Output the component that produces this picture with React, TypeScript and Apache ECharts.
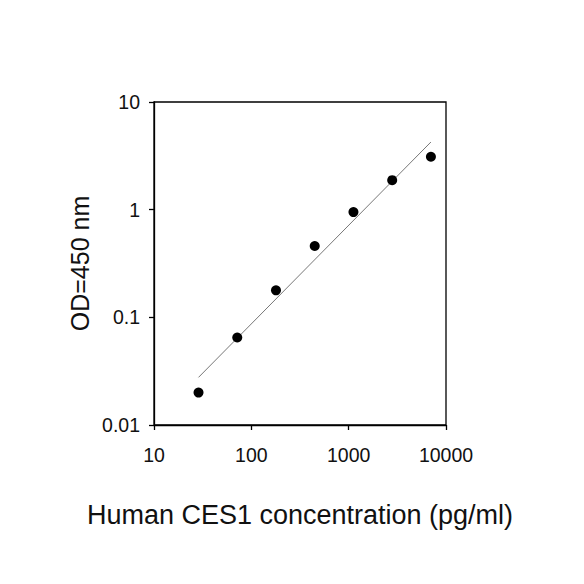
import React, { useEffect, useRef } from "react";
import * as echarts from "echarts";

const concentrations = [28.67, 71.68, 179.2, 448, 1120, 2800, 7000];
const odValues = [0.02, 0.065, 0.178, 0.46, 0.95, 1.88, 3.1];
const fitX = [28.67, 7000];
const fitY = [0.0277, 4.25];
const xTitle = "Human CES1 concentration (pg/ml)";
const yTitle = "OD=450 nm";

const FONT = "'Liberation Sans', Arial, sans-serif";

function fmt(v: number) {
  return String(+Number(v).toPrecision(6));
}

export default function App() {
  const ref = useRef<HTMLDivElement>(null);
  useEffect(() => {
    if (!ref.current) return;
    const chart = echarts.init(ref.current, null, { renderer: "svg" });
    chart.setOption({
      animation: false,
      backgroundColor: "#ffffff",
      grid: {
        left: 154,
        top: 102,
        right: 138,
        bottom: 159,
        show: true,
        borderColor: "#000",
        borderWidth: 1.3,
      },
      xAxis: {
        type: "log",
        logBase: 10,
        min: 10,
        max: 10000,
        name: xTitle,
        nameLocation: "middle",
        nameGap: 76,
        nameTextStyle: { fontSize: 27, color: "#111", fontFamily: FONT },
        axisLine: { show: true, lineStyle: { color: "#000", width: 1.3 } },
        axisTick: { show: true, inside: false, length: 5, lineStyle: { color: "#000", width: 1.3 } },
        minorTick: { show: false },
        splitLine: { show: false },
        axisLabel: {
          fontSize: 19.5,
          color: "#111",
          fontFamily: FONT,
          margin: 20,
          formatter: (v: number) => fmt(v),
        },
      },
      yAxis: {
        type: "log",
        logBase: 10,
        min: 0.01,
        max: 10,
        name: yTitle,
        nameLocation: "middle",
        nameGap: 62,
        nameTextStyle: { fontSize: 25, color: "#111", fontFamily: FONT },
        axisLine: { show: true, lineStyle: { color: "#000", width: 1.3 } },
        axisTick: { show: true, inside: false, length: 5, lineStyle: { color: "#000", width: 1.3 } },
        splitLine: { show: false },
        axisLabel: {
          fontSize: 19.5,
          color: "#111",
          fontFamily: FONT,
          margin: 14,
          formatter: (v: number) => fmt(v),
        },
      },
      series: [
        {
          type: "line",
          data: fitX.map((x, i) => [x, fitY[i]]),
          showSymbol: false,
          symbol: "none",
          lineStyle: { color: "#777", width: 1 },
          silent: true,
          z: 1,
        },
        {
          type: "scatter",
          data: concentrations.map((x, i) => [x, odValues[i]]),
          symbol: "circle",
          symbolSize: 10,
          itemStyle: { color: "#000", opacity: 1 },
          z: 2,
        },
      ],
    });
    return () => chart.dispose();
  }, []);
  return (
    <div
      ref={ref}
      style={{ position: "fixed", left: 0, top: 0, width: 584, height: 584 }}
    />
  );
}
